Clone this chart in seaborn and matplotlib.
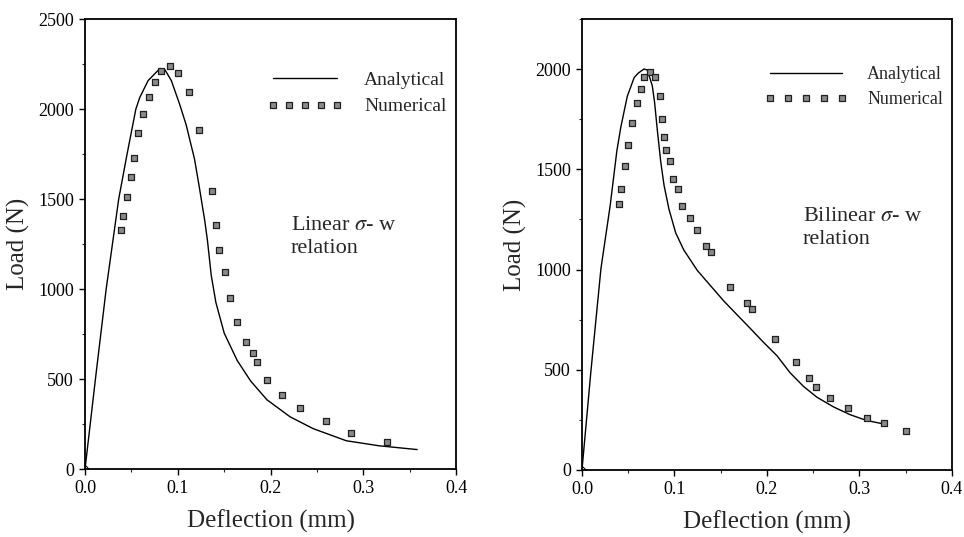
import numpy as np
import pandas as pd
import matplotlib
matplotlib.use("Agg")
import matplotlib.pyplot as plt
import seaborn as sns
from matplotlib.lines import Line2D
from matplotlib.ticker import MultipleLocator

# Linear sigma-w relation (left panel)
lin_ana_x = [0.0, 0.0114, 0.0228, 0.0363, 0.045, 0.0548, 0.059, 0.068, 0.0807, 0.086,
             0.093, 0.102, 0.109, 0.118, 0.123, 0.129, 0.132, 0.136, 0.141, 0.150,
             0.164, 0.1785, 0.196, 0.221, 0.246, 0.2816, 0.317, 0.358]
lin_ana_y = [0, 508, 1000, 1500, 1741, 2000, 2064, 2158, 2225, 2219,
             2158, 2026, 1912, 1722, 1571, 1381, 1267, 1077, 926, 755,
             603, 489, 385, 290, 224, 157, 129, 108]
lin_num_x = [0.0391, 0.0412, 0.0448, 0.0494, 0.0523, 0.0572, 0.0622, 0.0693, 0.0754, 0.0814,
             0.0917, 0.1003, 0.1116, 0.123, 0.1365, 0.1412, 0.144, 0.1508, 0.1561, 0.164,
             0.1732, 0.1806, 0.1849, 0.1966, 0.2119, 0.2315, 0.2592, 0.2869, 0.3253]
lin_num_y = [1330, 1407, 1512, 1622, 1728, 1868, 1971, 2067, 2149, 2210,
             2240, 2198, 2094, 1885, 1546, 1354, 1214, 1094, 950, 819,
             707, 645, 594, 497, 413, 340, 266, 199, 150]

# Bilinear sigma-w relation (right panel)
bil_ana_x = [0.0, 0.0097, 0.0205, 0.0305, 0.0377, 0.042, 0.049, 0.0564, 0.0607, 0.067,
             0.0707, 0.0761, 0.0786, 0.0815, 0.0851, 0.0887, 0.094, 0.1013, 0.110, 0.1246,
             0.139, 0.1533, 0.1677, 0.182, 0.196, 0.2108, 0.225, 0.2395, 0.254, 0.2718,
             0.2898, 0.3077, 0.3257]
bil_ana_y = [0, 494, 1004, 1319, 1591, 1710, 1864, 1957, 1979, 2000,
             1995, 1915, 1830, 1694, 1540, 1421, 1302, 1183, 1098, 996,
             919, 843, 774, 706, 638, 570, 485, 417, 363, 315,
             276, 247, 230]
bil_num_x = [0.0402, 0.0424, 0.047, 0.0503, 0.0546, 0.0592, 0.0639, 0.0675, 0.0733, 0.0794,
             0.084, 0.0865, 0.089, 0.0905, 0.0948, 0.0987, 0.1038, 0.1084, 0.1167, 0.1242,
             0.134, 0.1393, 0.1605, 0.1784, 0.1838, 0.2082, 0.2316, 0.2452, 0.2531, 0.2682,
             0.2873, 0.3077, 0.3264, 0.3508]
bil_num_y = [1328, 1404, 1515, 1620, 1733, 1833, 1901, 1961, 1986, 1962,
             1867, 1750, 1659, 1597, 1542, 1452, 1404, 1319, 1258, 1195,
             1115, 1086, 914, 834, 805, 652, 540, 460, 412, 361,
             311, 260, 233, 196]

sns.set_style("ticks")
plt.rcParams["font.family"] = ["Liberation Serif", "DejaVu Serif"]
plt.rcParams["mathtext.fontset"] = "stix"

fig = plt.figure(figsize=(9.64, 5.37), dpi=100)
ax1 = fig.add_axes([0.0882, 0.1266, 0.385, 0.838])
ax2 = fig.add_axes([0.6037, 0.1248, 0.3838, 0.840])

panels = [
    (ax1, lin_ana_x, lin_ana_y, lin_num_x, lin_num_y, 2500, "Linear", (0.555, 0.47), (1.0, 0.905), 14, 3.9),
    (ax2, bil_ana_x, bil_ana_y, bil_num_x, bil_num_y, 2250, "Bilinear", (0.597, 0.49), (1.0, 0.915), 13, 4.6),
]

for ax, ax_x, ax_y, nx, ny, ytop, kind, txtpos, legpos, legfs, hlen in panels:
    ana = pd.DataFrame({"x": ax_x, "y": ax_y})
    num = pd.DataFrame({"x": nx, "y": ny})
    sns.lineplot(data=ana, x="x", y="y", ax=ax, color="black", linewidth=1.0,
                 sort=False, estimator=None, marker="D", markevery=[0],
                 markersize=4, markerfacecolor="white", markeredgecolor="black")
    sns.scatterplot(data=num, x="x", y="y", ax=ax, marker="s", s=22,
                    color="#8a8a8a", edgecolor="#202020", linewidth=0.9, zorder=3)
    ax.set_xlim(0, 0.4)
    ax.set_ylim(0, ytop)
    ax.xaxis.set_major_locator(MultipleLocator(0.1))
    ax.xaxis.set_minor_locator(MultipleLocator(0.05))
    ax.yaxis.set_major_locator(MultipleLocator(500))
    ax.yaxis.set_minor_locator(MultipleLocator(250))
    ax.tick_params(which="major", direction="out", length=4, width=1, labelsize=13,
                   colors="black", pad=4)
    ax.tick_params(which="minor", direction="out", length=2.5, width=0.8)
    ax.xaxis.set_major_formatter(plt.FuncFormatter(lambda v, p: f"{v:.1f}"))
    ax.yaxis.set_major_formatter(plt.FuncFormatter(lambda v, p: f"{v:.0f}"))
    for sp in ax.spines.values():
        sp.set_linewidth(1.3)
        sp.set_color("black")
    ax.set_xlabel("Deflection (mm)", fontsize=18, labelpad=9)
    ax.set_ylabel("Load (N)", fontsize=18, labelpad=6)

    handles = [
        Line2D([], [], color="black", linewidth=1.0),
        Line2D([], [], linestyle="none", marker="s", markersize=4.5,
               markerfacecolor="#8a8a8a", markeredgecolor="#202020", markeredgewidth=0.9),
    ]
    ax.legend(handles, ["Analytical", "Numerical"], loc="upper right",
              bbox_to_anchor=legpos, frameon=False, fontsize=legfs,
              handlelength=hlen, numpoints=5, handletextpad=1.1, labelspacing=0.45,
              borderaxespad=0.1)
    ax.text(txtpos[0], txtpos[1], kind + r" $\sigma$- w" + "\nrelation",
            transform=ax.transAxes, fontsize=16, va="bottom", ha="left",
            linespacing=1.25)

fig.savefig("out.png", dpi=100)
